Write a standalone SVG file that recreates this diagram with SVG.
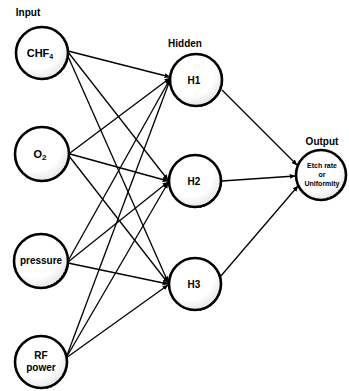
<svg xmlns="http://www.w3.org/2000/svg" width="349" height="391" viewBox="0 0 349 391">
<defs>
<radialGradient id="shade" cx="0.4" cy="0.35" r="0.7">
<stop offset="0.65" stop-color="#ffffff"/>
<stop offset="1" stop-color="#e2e2e2"/>
</radialGradient>
<marker id="ah" viewBox="0 0 10 10" refX="9" refY="5" markerWidth="6" markerHeight="6" orient="auto" markerUnits="userSpaceOnUse">
<path d="M0,1 L10,5 L0,9 z" fill="#000"/>
</marker>
</defs>
<style>
.n{fill:url(#shade);stroke:#000;stroke-width:2.6}
.sh{fill:none;stroke:#000;stroke-width:2;stroke-dasharray:2 1.5}
.c line{stroke:#000;stroke-width:1.3;marker-end:url(#ah)}
.t{font-family:"Liberation Sans",Arial,sans-serif;font-weight:bold;fill:#000;text-anchor:middle}
.h{font-family:"Liberation Sans",Arial,sans-serif;font-weight:bold;fill:#000;text-anchor:middle;font-size:10px}
</style>
<rect width="349" height="391" fill="#fff"/>
<text class="h" x="28" y="16">Input</text>
<text class="h" x="185" y="47">Hidden</text>
<text class="h" x="322" y="145">Output</text>
<g class="c" id="connectors">
<line x1="68" y1="51" x2="170" y2="77"/>
<line x1="68" y1="52" x2="168" y2="180"/>
<line x1="67" y1="54" x2="168" y2="282"/>
<line x1="70" y1="153" x2="170" y2="78"/>
<line x1="70" y1="154" x2="168" y2="181"/>
<line x1="69" y1="156" x2="168" y2="283"/>
<line x1="68" y1="261" x2="170" y2="79"/>
<line x1="68" y1="262" x2="168" y2="182"/>
<line x1="68" y1="263" x2="168" y2="284"/>
<line x1="66" y1="358" x2="170" y2="80"/>
<line x1="66" y1="358" x2="168" y2="183"/>
<line x1="66" y1="358" x2="168" y2="285"/>
<line x1="222" y1="90" x2="297" y2="165"/>
<line x1="222" y1="181" x2="295" y2="176"/>
<line x1="220" y1="277" x2="298" y2="186"/>
</g>
<g id="chf4">
<circle class="n" cx="42" cy="53" r="26"/>
<path class="sh" d="M67,58 A26,26 0 0 1 45,79"/>
<text class="t" x="40" y="57" font-size="11">CHF<tspan font-size="7" dy="2">4</tspan></text>
</g>
<g id="o2">
<circle class="n" cx="42" cy="154" r="27"/>
<path class="sh" d="M68,159 A27,27 0 0 1 45,181"/>
<text class="t" x="40" y="158" font-size="11">O<tspan font-size="8" dy="2">2</tspan></text>
</g>
<g id="pressure">
<circle class="n" cx="41" cy="261" r="27"/>
<path class="sh" d="M67,266 A27,27 0 0 1 46,287"/>
<text class="t" x="41" y="264" font-size="10">pressure</text>
</g>
<g id="rfpower">
<circle class="n" cx="41" cy="362" r="26"/>
<path class="sh" d="M66,367 A26,26 0 0 1 46,388"/>
<text class="t" x="41" y="359" font-size="10">RF</text>
<text class="t" x="41" y="371" font-size="10">power</text>
</g>
<g id="h1">
<circle class="n" cx="196" cy="80" r="26"/>
<path class="sh" d="M221,86 A26,26 0 0 1 200,106"/>
<text class="t" x="194" y="84" font-size="10">H1</text>
</g>
<g id="h2">
<circle class="n" cx="195" cy="181" r="26"/>
<path class="sh" d="M220,187 A26,26 0 0 1 199,207"/>
<text class="t" x="194" y="185" font-size="10">H2</text>
</g>
<g id="h3">
<circle class="n" cx="195" cy="284" r="26"/>
<path class="sh" d="M220,290 A26,26 0 0 1 199,310"/>
<text class="t" x="194" y="288" font-size="10">H3</text>
</g>
<g id="output">
<circle class="n" cx="321" cy="175" r="25"/>
<path class="sh" d="M345,181 A25,25 0 0 1 325,199"/>
<text class="t" x="322" y="168" font-size="7">Etch rate</text>
<text class="t" x="322" y="177" font-size="7">or</text>
<text class="t" x="322" y="186" font-size="7">Uniformity</text>
</g>
</svg>
